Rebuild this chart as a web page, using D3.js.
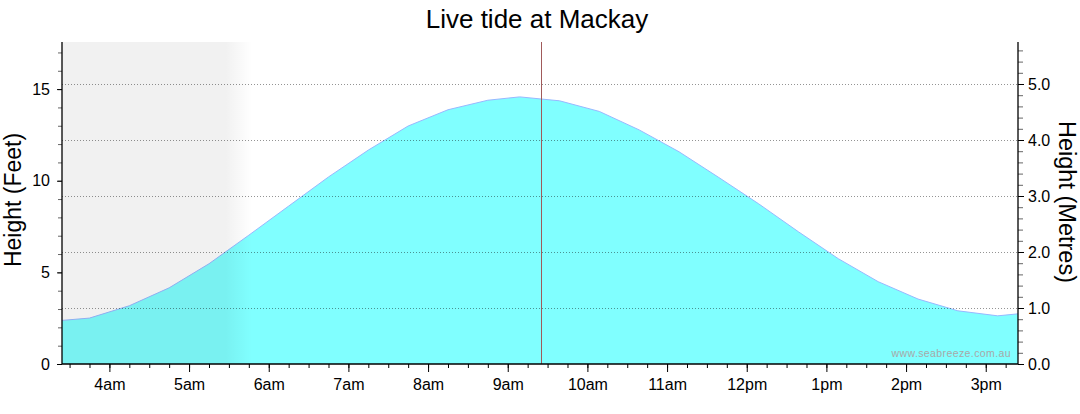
<!DOCTYPE html>
<html>
<head>
<meta charset="utf-8">
<script src="https://cdn.jsdelivr.net/npm/d3@7"></script>
<style>
  html, body { margin: 0; padding: 0; background: #fff; }
  svg { display: block; font-family: "Liberation Sans", Arial, sans-serif; }
</style>
</head>
<body>
<svg id="chart" width="1080" height="414"></svg>
<script>
// ---- data (hours since midnight, height in metres) ----
const tideHours   = [3.25, 3.75, 4.25, 4.75, 5.25, 5.75, 6.25, 6.75, 7.25, 7.75, 8.25, 8.75, 9.15, 9.65, 10.15, 10.65, 11.15, 11.65, 12.15, 12.65, 13.15, 13.65, 14.15, 14.65, 15.15, 15.65];
const tideMetres  = [0.76, 0.82, 1.04, 1.36, 1.79, 2.30, 2.82, 3.34, 3.82, 4.25, 4.54, 4.71, 4.77, 4.70, 4.51, 4.18, 3.79, 3.33, 2.86, 2.36, 1.88, 1.47, 1.16, 0.95, 0.86, 0.93];
const hourTicks   = [4, 5, 6, 7, 8, 9, 10, 11, 12, 13, 14, 15];
const hourLabels  = ["4am", "5am", "6am", "7am", "8am", "9am", "10am", "11am", "12pm", "1pm", "2pm", "3pm"];
const feetTicks   = [0, 5, 10, 15];
const metreTicks  = [0, 1, 2, 3, 4, 5];
const timeDomain  = [3.405, 15.405];
const nowHour     = 9.4167;
const sunriseHour = [5.46, 5.79];   // night shading fades out between these
const feetMax     = 17.57;
const metreMax    = 5.75;
const titleText   = "Live tide at Mackay";

// ---- layout ----
const L = 62, R = 1018, T = 42, B = 364;
const svg = d3.select("#chart");

const x = d3.scaleLinear().domain(timeDomain).range([L, R]);
const yM = d3.scaleLinear().domain([0, metreMax]).range([B, T]);
const yF = d3.scaleLinear().domain([0, feetMax]).range([B, T]);

const defs = svg.append("defs");
defs.append("clipPath").attr("id", "plotClip")
  .append("rect").attr("x", L).attr("y", T).attr("width", R - L).attr("height", B - T);

const data = tideHours.map((h, i) => ({ h, m: tideMetres[i] }));

const plot = svg.append("g").attr("clip-path", "url(#plotClip)");

// tide area
const area = d3.area().x(d => x(d.h)).y0(B).y1(d => yM(d.m));
const line = d3.line().x(d => x(d.h)).y(d => yM(d.m));
plot.append("path").datum(data).attr("d", area).attr("fill", "#80ffff");
plot.append("path").datum(data).attr("d", line).attr("fill", "none")
  .attr("stroke", "#98b8ff").attr("stroke-width", 1);

// night shading (overlay)
const nx0 = x(timeDomain[0]), nx1 = x(sunriseHour[1]);
const grad = defs.append("linearGradient").attr("id", "nightGrad")
  .attr("gradientUnits", "userSpaceOnUse")
  .attr("x1", nx0).attr("x2", nx1).attr("y1", 0).attr("y2", 0);
grad.append("stop").attr("offset", 0).attr("stop-color", "#000").attr("stop-opacity", 0.055);
grad.append("stop").attr("offset", (x(sunriseHour[0]) - nx0) / (nx1 - nx0)).attr("stop-color", "#000").attr("stop-opacity", 0.055);
grad.append("stop").attr("offset", 1).attr("stop-color", "#000").attr("stop-opacity", 0);
plot.append("rect").attr("x", nx0).attr("y", T).attr("width", nx1 - nx0).attr("height", B - T)
  .attr("fill", "url(#nightGrad)");

// gridlines (metres)
plot.selectAll(".grid").data(metreTicks.filter(v => v > 0)).join("line")
  .attr("x1", L).attr("x2", R)
  .attr("y1", d => Math.round(yM(d)) + 0.5).attr("y2", d => Math.round(yM(d)) + 0.5)
  .attr("stroke", "rgba(0,0,0,0.42)").attr("stroke-width", 1).attr("stroke-dasharray", "1,2");

// now line
plot.append("line")
  .attr("x1", Math.round(x(nowHour)) + 0.5).attr("x2", Math.round(x(nowHour)) + 0.5)
  .attr("y1", T).attr("y2", B)
  .attr("stroke", "#a05a5a").attr("stroke-width", 1);

// watermark
svg.append("text").attr("x", R - 7).attr("y", B - 7).attr("text-anchor", "end")
  .attr("font-size", 10.5).attr("fill", "#a8a8a8").attr("letter-spacing", 0.4)
  .text("www.seabreeze.com.au");

// ---- axes ----
function styleAxis(g) {
  g.select(".domain").attr("stroke", "#000").attr("stroke-width", 1.3);
  g.selectAll("text").attr("font-size", 16).attr("fill", "#000")
    .attr("font-family", "'Liberation Sans', Arial, sans-serif");
}

// left (feet) minor
svg.append("g").attr("transform", `translate(${L},0)`)
  .call(d3.axisLeft(yF).tickValues(d3.range(0, 18, 1)).tickSize(4).tickFormat(""))
  .call(g => g.select(".domain").remove())
  .call(g => g.selectAll(".tick line").attr("stroke", "#666"));
// left (feet) major
svg.append("g").attr("transform", `translate(${L},0)`)
  .call(d3.axisLeft(yF).tickValues(feetTicks).tickSize(5).tickSizeOuter(0).tickPadding(7).tickFormat(d3.format("d")))
  .call(styleAxis)
  .call(g => g.select(".domain").attr("d", `M0,${T}V${B}`));

// right (metres) minor
svg.append("g").attr("transform", `translate(${R},0)`)
  .call(d3.axisRight(yM).tickValues(d3.range(0, 5.8, 0.2)).tickSize(5).tickFormat(""))
  .call(g => g.select(".domain").remove())
  .call(g => g.selectAll(".tick line").attr("stroke", "#666"));
// right (metres) major
svg.append("g").attr("transform", `translate(${R},0)`)
  .call(d3.axisRight(yM).tickValues(metreTicks).tickSize(6).tickSizeOuter(0).tickPadding(4).tickFormat(d3.format(".1f")))
  .call(styleAxis)
  .call(g => g.select(".domain").attr("d", `M0,${T}V${B}`));

// bottom minor
svg.append("g").attr("transform", `translate(0,${B})`)
  .call(d3.axisBottom(x).tickValues(d3.range(3.5, 15.5, 0.25)).tickSize(4).tickFormat(""))
  .call(g => g.select(".domain").remove())
  .call(g => g.selectAll(".tick line").attr("stroke", "#000"));
// bottom major
svg.append("g").attr("transform", `translate(0,${B})`)
  .call(d3.axisBottom(x).tickValues(hourTicks).tickSize(8).tickSizeOuter(0).tickPadding(7)
    .tickFormat((d, i) => hourLabels[i]))
  .call(styleAxis)
  .call(g => g.select(".domain").attr("d", `M${L},0H${R}`));

// ---- titles ----
svg.append("text").attr("x", 537).attr("y", 28).attr("text-anchor", "middle")
  .attr("font-size", 26).attr("fill", "#000").text(titleText);

svg.append("text").attr("transform", `translate(21,200) rotate(-90)`)
  .attr("text-anchor", "middle").attr("font-size", 23).attr("fill", "#000")
  .text("Height (Feet)");

svg.append("text").attr("transform", `translate(1059,202) rotate(90)`)
  .attr("text-anchor", "middle").attr("font-size", 23.5).attr("fill", "#000")
  .text("Height (Metres)");
</script>
</body>
</html>
